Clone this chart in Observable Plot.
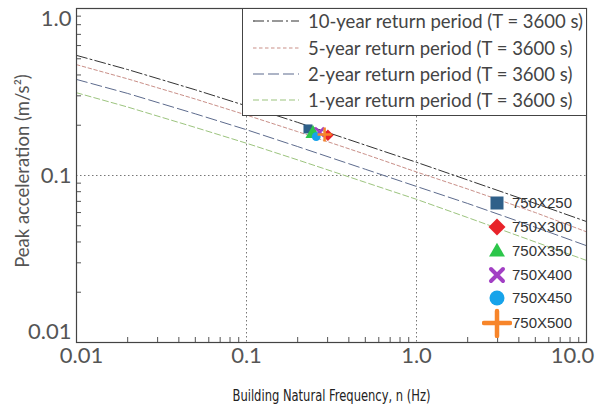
<!DOCTYPE html>
<html><head><meta charset="utf-8">
<script src="https://cdn.jsdelivr.net/npm/d3@7"></script>
<script src="https://cdn.jsdelivr.net/npm/@observablehq/plot@0.6"></script>
<style>
body{margin:0;background:#fff;}
#wrap{position:relative;width:599px;height:417px;overflow:hidden;}
#leg1{position:absolute;left:242px;top:8px;width:345px;height:108px;border:1.2px solid #444;background:#fff;box-sizing:border-box;font-family:Lato,"Open Sans",sans-serif;font-size:18.5px;color:#444;}
.row1{position:absolute;left:0;height:20px;line-height:20px;white-space:nowrap;}
.row1 svg{position:absolute;left:10px;top:8px;}
.row1 span{position:absolute;left:65px;top:0;}
.row2{position:absolute;height:24px;line-height:24px;font-family:"Liberation Sans",Arial,sans-serif;font-size:15px;color:#333;white-space:nowrap;}
.row2 svg{position:absolute;left:-30px;top:-3px;}
</style></head>
<body><div id="wrap"></div>
<script>
// ---- data ----
const freq = [0.01, 0.02, 0.05, 0.1, 0.2, 0.5, 1, 2, 5, 10];
const peak10yr = [0.524, 0.431, 0.326, 0.261, 0.208, 0.152, 0.120, 0.094, 0.068, 0.053];
const peak5yr  = [0.461, 0.379, 0.287, 0.230, 0.183, 0.134, 0.105, 0.083, 0.060, 0.046];
const peak2yr  = [0.376, 0.310, 0.234, 0.188, 0.149, 0.109, 0.086, 0.068, 0.049, 0.038];
const peak1yr  = [0.313, 0.257, 0.194, 0.156, 0.124, 0.091, 0.072, 0.056, 0.040, 0.031];
const seriesLabels = [
  "10-year return period (T = 3600 s)",
  "5-year return period (T = 3600 s)",
  "2-year return period (T = 3600 s)",
  "1-year return period (T = 3600 s)"
];
const buildings = ["750X250", "750X300", "750X350", "750X400", "750X450", "750X500"];
const bldFreq = [0.230, 0.301, 0.246, 0.269, 0.257, 0.288];
const bldPeak = [0.190, 0.174, 0.178, 0.182, 0.171, 0.176];
const xTickValues = [0.01, 0.1, 1, 10];
const xTickLabels = ["0.01", "0.1", "1.0", "10.0"];
const yTickValues = [0.01, 0.1, 1];
const yTickLabels = ["0.01", "0.1", "1.0"];
const xTitle = "Building Natural Frequency, n (Hz)";
const yTitle = "Peak acceleration (m/s\u00B2)";

// ---- styles ----
const seriesData = [peak10yr, peak5yr, peak2yr, peak1yr];
const lineColors = ["#333333", "#c98f88", "#5d6b8d", "#9cc47e"];
const lineDash = ["11,3,2,3", "3.5,2.5", "11,4", "6,3"];
const bldColors = ["#2f6089", "#e8232a", "#2cc64a", "#a23fc4", "#17a3ea", "#f7852a"];
const bldSymbols = ["square", "square", "triangle", "times", "circle", "plus"];
const bldRotate = [0, 45, 0, 0, 0, 0];
const bldR = [5.1, 4.6, 5.6, 4.2, 4.4, 4.6];

const minorX = [], minorY = [];
for (const d of [0.01, 0.1, 1]) for (let k = 2; k <= 9; k++) minorX.push(k * d);
for (const d of [0.01, 0.1]) for (let k = 2; k <= 9; k++) minorY.push(k * d);

const fmt = (vals, labs) => v => labs[vals.indexOf(v)];
const tickFont = {fontSize: 22, fill: "#555", fontFamily: "Lato, 'Open Sans', sans-serif", tickSize: 0, label: null};

const marks = [
  Plot.ruleX([0.1, 1], {stroke: "#777", strokeDasharray: "1.5,2.5"}),
  Plot.ruleY([0.1], {stroke: "#777", strokeDasharray: "1.5,2.5"}),
  Plot.tickX(minorX, {stroke: "#555", insetTop: 329}),
  Plot.tickY(minorY, {stroke: "#555", insetRight: 505}),
];
seriesData.forEach((arr, s) => {
  marks.push(Plot.line(freq.map((f, i) => ({f, a: arr[i]})), {
    x: "f", y: "a", stroke: lineColors[s], strokeWidth: 1, strokeDasharray: lineDash[s]
  }));
});
buildings.forEach((b, i) => {
  const strokeSym = bldSymbols[i] === "times" || bldSymbols[i] === "plus";
  marks.push(Plot.dot([i], {
    x: j => bldFreq[j], y: j => bldPeak[j], symbol: bldSymbols[i], r: bldR[i], rotate: bldRotate[i],
    fill: strokeSym ? "none" : bldColors[i], stroke: strokeSym ? bldColors[i] : "none", strokeWidth: strokeSym ? 2.5 : 0
  }));
});
marks.push(Plot.frame({stroke: "#444", strokeWidth: 1.2}));
// y tick labels + title
marks.push(Plot.axisY([0.1], {...tickFont, tickFormat: fmt(yTickValues, yTickLabels), tickPadding: 5}));
marks.push(Plot.axisY([0.1], {tickSize: 0, tickFormat: () => "", fontSize: 18.5, fill: "#555",
  fontFamily: "Lato, 'Open Sans', sans-serif",
  label: yTitle, labelAnchor: "center", labelOffset: 63, labelArrow: "none"}));
marks.push(Plot.axisY([1], {...tickFont, tickFormat: fmt(yTickValues, yTickLabels), tickPadding: 5, dy: 10}));
marks.push(Plot.axisY([0.01], {...tickFont, tickFormat: fmt(yTickValues, yTickLabels), tickPadding: 5, dy: -11}));
// x tick labels
marks.push(Plot.axisX([0.01], {...tickFont, tickFormat: fmt(xTickValues, xTickLabels), tickPadding: 5, dx: 5}));
marks.push(Plot.axisX([0.1, 1], {...tickFont, tickFormat: fmt(xTickValues, xTickLabels), tickPadding: 5}));
marks.push(Plot.axisX([10], {...tickFont, tickFormat: fmt(xTickValues, xTickLabels), tickPadding: 5, dx: -14}));
marks.push(Plot.axisX([1], {tickSize: 0, tickFormat: () => "", label: xTitle, labelAnchor: "center",
  labelOffset: 58, labelArrow: "none", fontSize: 15.5, fill: "#222", dx: -11,
  fontFamily: "'DejaVu Sans Condensed', 'Liberation Sans Narrow', 'DejaVu Sans', sans-serif"}));

const chart = Plot.plot({
  width: 599, height: 417,
  marginLeft: 76, marginRight: 13, marginTop: 8, marginBottom: 75,
  style: {background: "transparent"},
  x: {type: "log", domain: [0.01, 10]},
  y: {type: "log", domain: [0.01, 1]},
  marks
});
const wrap = document.getElementById("wrap");
wrap.appendChild(chart);

// titles: narrow the x title; centre the y title where the reference has it
chart.querySelectorAll("text").forEach(t => {
  if (t.textContent === xTitle) {
    t.setAttribute("textLength", "198");
    t.setAttribute("lengthAdjust", "spacingAndGlyphs");
  }
  if (t.textContent === yTitle) {
    const r = t.getBoundingClientRect();
    const shiftY = 171 - (r.top + r.height / 2);
    const shiftX = 22 - (r.left + r.width / 2);
    const g = t.parentNode;
    const prev = g.getAttribute("transform") || "";
    g.setAttribute("transform", `translate(${shiftX},${shiftY}) ${prev}`);
  }
});

// ---- return-period legend (top right) ----
const leg1 = document.createElement("div");
leg1.id = "leg1";
const rowTops1 = [2, 29, 55, 81];
seriesLabels.forEach((lab, s) => {
  const row = document.createElement("div");
  row.className = "row1";
  row.style.top = rowTops1[s] + "px";
  row.innerHTML = `<svg width="46" height="4"><line x1="0" y1="2" x2="46" y2="2" stroke="${lineColors[s]}" stroke-width="1.2" stroke-dasharray="${lineDash[s]}"/></svg><span>${lab}</span>`;
  leg1.appendChild(row);
});
wrap.appendChild(leg1);

// ---- building legend (bottom right) ----
const rowCenters2 = [203, 227, 250.5, 274.5, 298, 322.5];
buildings.forEach((b, i) => {
  const row = document.createElement("div");
  row.className = "row2";
  row.style.left = "512px";
  row.style.top = (rowCenters2[i] - 12) + "px";
  let shape = "";
  const c = bldColors[i];
  if (i === 0) shape = `<rect x="8.5" y="8.5" width="13" height="13" fill="${c}"/>`;
  else if (i === 1) shape = `<rect x="9" y="9" width="12" height="12" fill="${c}" transform="rotate(45 15 15)"/>`;
  else if (i === 2) shape = `<path d="${d3.symbol(d3.symbolTriangle, 110)()}" transform="translate(15,16)" fill="${c}"/>`;
  else if (i === 3) shape = `<path d="M9,9L21,21M21,9L9,21" stroke="${c}" stroke-width="4" stroke-linecap="round"/>`;
  else if (i === 4) shape = `<circle cx="15" cy="15" r="7.5" fill="${c}"/>`;
  else shape = `<path d="M2,15L28,15M15,3L15,28" stroke="${c}" stroke-width="4.5" stroke-linecap="round"/>`;
  row.innerHTML = `<svg width="30" height="30">${shape}</svg><span>${b}</span>`;
  wrap.appendChild(row);
});
</script></body></html>
